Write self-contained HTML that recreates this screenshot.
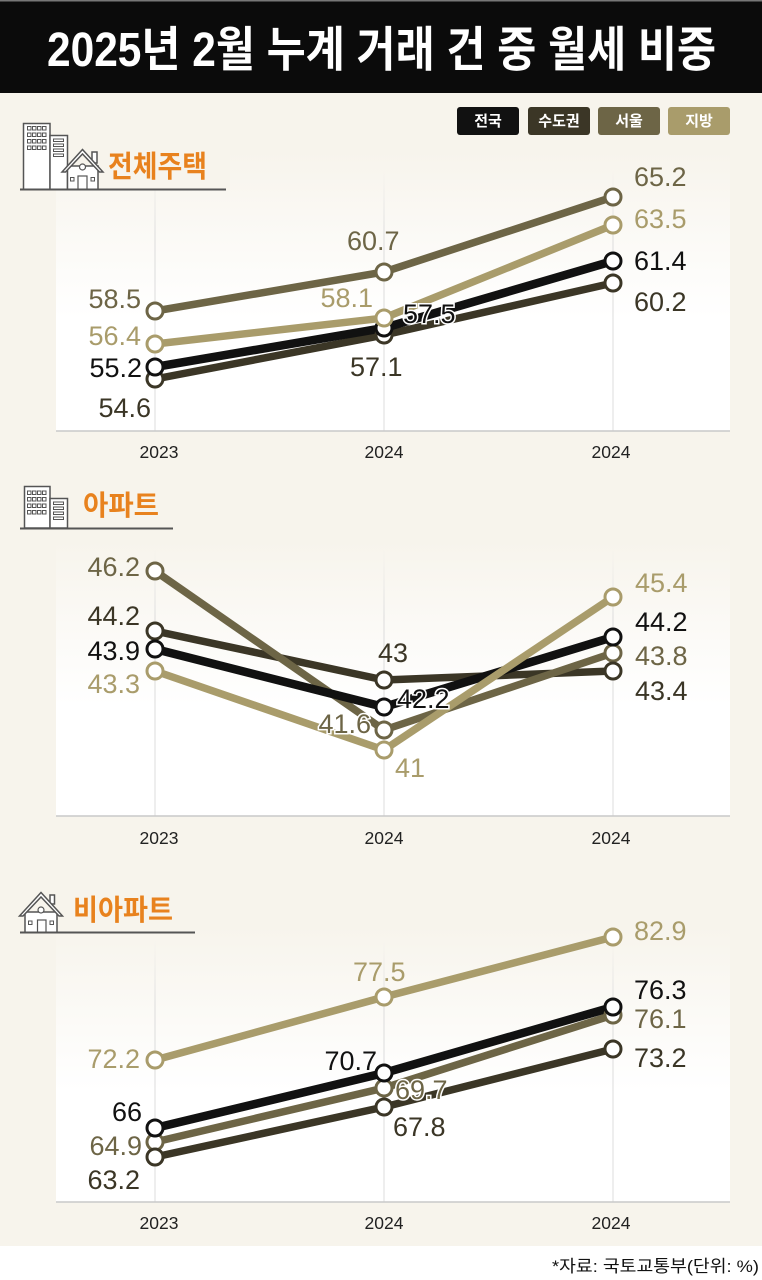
<!DOCTYPE html>
<html><head><meta charset="utf-8">
<style>
html,body{margin:0;padding:0;background:#f7f4ec;}
svg{display:block;}
</style></head>
<body>
<svg width="762" height="1280" viewBox="0 0 762 1280" xmlns="http://www.w3.org/2000/svg">
<defs>
<linearGradient id="pg" x1="0" y1="0" x2="0" y2="1">
<stop offset="0" stop-color="#f7f4ec"/>
<stop offset="0.6" stop-color="#ffffff"/>
<stop offset="1" stop-color="#ffffff"/>
</linearGradient>
<linearGradient id="gl" x1="0" y1="0" x2="0" y2="1">
<stop offset="0" stop-color="#dcdcdc" stop-opacity="0"/>
<stop offset="0.25" stop-color="#dcdcdc" stop-opacity="1"/>
<stop offset="1" stop-color="#dcdcdc" stop-opacity="1"/>
</linearGradient>
</defs>
<rect x="0" y="0" width="762" height="1280" fill="#f7f4ec"/>
<rect x="0" y="1246" width="762" height="34" fill="#ffffff"/>

<!-- ===== plot areas (drawn first) ===== -->
<rect x="56" y="150" width="674" height="281" fill="url(#pg)"/>
<rect x="56" y="540" width="674" height="276" fill="url(#pg)"/>
<rect x="56" y="925" width="674" height="277" fill="url(#pg)"/>
<g fill="url(#gl)">
<rect x="154.5" y="170" width="1" height="261"/><rect x="383.5" y="170" width="1" height="261"/><rect x="612.5" y="170" width="1" height="261"/>
<rect x="154.5" y="550" width="1" height="266"/><rect x="383.5" y="550" width="1" height="266"/><rect x="612.5" y="550" width="1" height="266"/>
<rect x="154.5" y="940" width="1" height="262"/><rect x="383.5" y="940" width="1" height="262"/><rect x="612.5" y="940" width="1" height="262"/>
</g>
<g stroke="#c9c9c9" stroke-width="1.5">
<line x1="56" y1="431" x2="730" y2="431"/>
<line x1="56" y1="816" x2="730" y2="816"/>
<line x1="56" y1="1202" x2="730" y2="1202"/>
</g>
<g font-family="'Liberation Sans',sans-serif" font-size="17.5" fill="#222" text-anchor="middle">
<text x="159" y="458">2023</text><text x="384" y="458">2024</text><text x="611" y="458">2024</text>
<text x="159" y="844">2023</text><text x="384" y="844">2024</text><text x="611" y="844">2024</text>
<text x="159" y="1229">2023</text><text x="384" y="1229">2024</text><text x="611" y="1229">2024</text>
</g>

<!-- title bar -->
<rect x="0" y="0" width="762" height="93" fill="#0b0b0b"/>
<rect x="0" y="0" width="762" height="1.5" fill="#777"/>
<text x="47" y="66" font-family="'Liberation Sans','Noto Sans CJK KR',sans-serif" font-weight="bold" font-size="48" fill="#ffffff" textLength="669" lengthAdjust="spacingAndGlyphs">2025년 2월 누계 거래 건 중 월세 비중</text>

<!-- legend -->
<g font-family="'Liberation Sans','Noto Sans CJK KR',sans-serif" font-weight="bold" font-size="15" fill="#fff" text-anchor="middle">
<rect x="457" y="107" width="62" height="28" rx="3" fill="#111111"/>
<text x="488" y="126">전국</text>
<rect x="528" y="107" width="62" height="28" rx="3" fill="#3b3626"/>
<text x="559" y="126">수도권</text>
<rect x="598" y="107" width="62" height="28" rx="3" fill="#6d6546"/>
<text x="629" y="126">서울</text>
<rect x="668" y="107" width="62" height="28" rx="3" fill="#a99c6b"/>
<text x="699" y="126">지방</text>
</g>

<!-- ===== header 1 icons ===== -->
<rect x="20" y="140" width="210" height="50" fill="#f7f4ec"/>
<g fill="#fff" stroke="#555" stroke-width="1.5">
<rect x="23.5" y="123.5" width="26.5" height="66"/>
<rect x="50" y="135.5" width="17.5" height="54"/>
<g stroke-width="1">
<rect x="27.5" y="126.5" width="3.5" height="3.5"/><rect x="32.5" y="126.5" width="3.5" height="3.5"/><rect x="37.5" y="126.5" width="3.5" height="3.5"/><rect x="42.5" y="126.5" width="3.5" height="3.5"/>
<rect x="27.5" y="133" width="3.5" height="3.5"/><rect x="32.5" y="133" width="3.5" height="3.5"/><rect x="37.5" y="133" width="3.5" height="3.5"/><rect x="42.5" y="133" width="3.5" height="3.5"/>
<rect x="27.5" y="139.5" width="3.5" height="3.5"/><rect x="32.5" y="139.5" width="3.5" height="3.5"/><rect x="37.5" y="139.5" width="3.5" height="3.5"/><rect x="42.5" y="139.5" width="3.5" height="3.5"/>
<rect x="27.5" y="146" width="3.5" height="3.5"/><rect x="32.5" y="146" width="3.5" height="3.5"/><rect x="37.5" y="146" width="3.5" height="3.5"/><rect x="42.5" y="146" width="3.5" height="3.5"/>
<rect x="53.5" y="139" width="10" height="2.5"/><rect x="53.5" y="144" width="10" height="2.5"/><rect x="53.5" y="149" width="10" height="2.5"/><rect x="53.5" y="154" width="10" height="2.5"/>
</g>
<rect x="92" y="152" width="5" height="11"/>
<rect x="67.5" y="166" width="30.5" height="23.5"/>
<path d="M62 172 L82.5 149.5 L103 172 L99.5 172 L82.5 154 L65.5 172 Z"/>
<circle cx="82.5" cy="167" r="3" stroke-width="1.2"/>
<rect x="78" y="176" width="9" height="13.5" stroke-width="1.2"/>
<rect x="70.5" y="177.5" width="3.5" height="3.5" stroke-width="1"/>
<rect x="91" y="177.5" width="3.5" height="3.5" stroke-width="1"/>
</g>
<line x1="20" y1="189.5" x2="226" y2="189.5" stroke="#555" stroke-width="2"/>
<text x="108" y="177" font-family="'Liberation Sans','Noto Sans CJK KR',sans-serif" font-weight="bold" font-size="30" fill="#e8821e" textLength="99" lengthAdjust="spacingAndGlyphs">전체주택</text>

<!-- ===== header 2 icons ===== -->
<g fill="#fff" stroke="#555" stroke-width="1.5">
<rect x="24.5" y="486.5" width="25.5" height="41.5"/>
<rect x="50" y="498.5" width="17.5" height="29.5"/>
<g stroke-width="1">
<rect x="27.5" y="491" width="3.5" height="3.5"/><rect x="32.5" y="491" width="3.5" height="3.5"/><rect x="37.5" y="491" width="3.5" height="3.5"/><rect x="42.5" y="491" width="3.5" height="3.5"/>
<rect x="27.5" y="497.5" width="3.5" height="3.5"/><rect x="32.5" y="497.5" width="3.5" height="3.5"/><rect x="37.5" y="497.5" width="3.5" height="3.5"/><rect x="42.5" y="497.5" width="3.5" height="3.5"/>
<rect x="27.5" y="504" width="3.5" height="3.5"/><rect x="32.5" y="504" width="3.5" height="3.5"/><rect x="37.5" y="504" width="3.5" height="3.5"/><rect x="42.5" y="504" width="3.5" height="3.5"/>
<rect x="27.5" y="510.5" width="3.5" height="3.5"/><rect x="32.5" y="510.5" width="3.5" height="3.5"/><rect x="37.5" y="510.5" width="3.5" height="3.5"/><rect x="42.5" y="510.5" width="3.5" height="3.5"/>
<rect x="53.5" y="502" width="10" height="2.5"/><rect x="53.5" y="507" width="10" height="2.5"/><rect x="53.5" y="512" width="10" height="2.5"/><rect x="53.5" y="517" width="10" height="2.5"/>
</g>
</g>
<line x1="20" y1="528.5" x2="173" y2="528.5" stroke="#555" stroke-width="2"/>
<text x="83" y="515" font-family="'Liberation Sans','Noto Sans CJK KR',sans-serif" font-weight="bold" font-size="28" fill="#e8821e" textLength="76" lengthAdjust="spacingAndGlyphs">아파트</text>

<!-- ===== header 3 icons ===== -->
<g fill="#fff" stroke="#555" stroke-width="1.5">
<rect x="50" y="895" width="4.5" height="9"/>
<rect x="25" y="912" width="32" height="20.5"/>
<path d="M19.5 916 L41 892.5 L62.5 916 L59 916 L41 897 L23 916 Z"/>
<circle cx="41" cy="910" r="3" stroke-width="1.2"/>
<rect x="37.5" y="920" width="8.5" height="12.5" stroke-width="1.2"/>
<rect x="28.5" y="921" width="3.5" height="3.5" stroke-width="1"/>
<rect x="50" y="921" width="3.5" height="3.5" stroke-width="1"/>
</g>
<line x1="20" y1="932.5" x2="195" y2="932.5" stroke="#555" stroke-width="2"/>
<text x="73" y="920" font-family="'Liberation Sans','Noto Sans CJK KR',sans-serif" font-weight="bold" font-size="29" fill="#e8821e" textLength="100" lengthAdjust="spacingAndGlyphs">비아파트</text>

<!-- ===== chart 1 lines ===== -->
<g fill="none" stroke-linejoin="round">
<polyline points="155,379 384,335 613,283" stroke="#3b3626" stroke-width="7.5"/>
<polyline points="155,311 384,272 613,197" stroke="#6d6546" stroke-width="7.5"/>
<polyline points="155,367 384,328 613,261" stroke="#111111" stroke-width="8.5"/>
<polyline points="155,344 384,318 613,225" stroke="#a99c6b" stroke-width="7.5"/>
</g>
<g fill="#fff" stroke-width="3">
<g stroke="#6d6546"><circle cx="155" cy="311" r="8"/><circle cx="384" cy="272" r="8"/><circle cx="613" cy="197" r="8"/></g>
<g stroke="#3b3626"><circle cx="155" cy="379" r="8"/><circle cx="384" cy="335" r="8"/><circle cx="613" cy="283" r="8"/></g>
<g stroke="#111111"><circle cx="155" cy="367" r="8"/><circle cx="384" cy="328" r="8"/><circle cx="613" cy="261" r="8"/></g>
<g stroke="#a99c6b"><circle cx="155" cy="344" r="8"/><circle cx="384" cy="318" r="8"/><circle cx="613" cy="225" r="8"/></g>
</g>

<!-- ===== chart 2 lines ===== -->
<g fill="none" stroke-linejoin="round">
<polyline points="155,631 384,680 613,671" stroke="#3b3626" stroke-width="7.5"/>
<polyline points="155,571 384,730 613,653" stroke="#6d6546" stroke-width="7.5"/>
<polyline points="155,649 384,707 613,637" stroke="#111111" stroke-width="8.5"/>
<polyline points="155,671 384,750 613,597" stroke="#a99c6b" stroke-width="7.5"/>
</g>
<g fill="#fff" stroke-width="3">
<g stroke="#6d6546"><circle cx="155" cy="571" r="8"/><circle cx="384" cy="730" r="8"/><circle cx="613" cy="653" r="8"/></g>
<g stroke="#3b3626"><circle cx="155" cy="631" r="8"/><circle cx="384" cy="680" r="8"/><circle cx="613" cy="671" r="8"/></g>
<g stroke="#111111"><circle cx="155" cy="649" r="8"/><circle cx="384" cy="707" r="8"/><circle cx="613" cy="637" r="8"/></g>
<g stroke="#a99c6b"><circle cx="155" cy="671" r="8"/><circle cx="384" cy="750" r="8"/><circle cx="613" cy="597" r="8"/></g>
</g>

<!-- ===== chart 3 lines ===== -->
<g fill="none" stroke-linejoin="round">
<polyline points="155,1157 384,1107 613,1049" stroke="#3b3626" stroke-width="7.5"/>
<polyline points="155,1142 384,1088 613,1015" stroke="#6d6546" stroke-width="7.5"/>
<polyline points="155,1128 384,1073 613,1007" stroke="#111111" stroke-width="8.5"/>
<polyline points="155,1060 384,997 613,937" stroke="#a99c6b" stroke-width="7.5"/>
</g>
<g fill="#fff" stroke-width="3">
<g stroke="#6d6546"><circle cx="155" cy="1142" r="8"/><circle cx="384" cy="1088" r="8"/><circle cx="613" cy="1015" r="8"/></g>
<g stroke="#3b3626"><circle cx="155" cy="1157" r="8"/><circle cx="384" cy="1107" r="8"/><circle cx="613" cy="1049" r="8"/></g>
<g stroke="#111111"><circle cx="155" cy="1128" r="8"/><circle cx="384" cy="1073" r="8"/><circle cx="613" cy="1007" r="8"/></g>
<g stroke="#a99c6b"><circle cx="155" cy="1060" r="8"/><circle cx="384" cy="997" r="8"/><circle cx="613" cy="937" r="8"/></g>
</g>

<!-- ===== value labels ===== -->
<g font-family="'Liberation Sans',sans-serif" font-size="27">
<!-- chart 1 -->
<text x="141" y="308" text-anchor="end" fill="#6d6546">58.5</text>
<text x="141" y="345" text-anchor="end" fill="#a99c6b">56.4</text>
<text x="142" y="377" text-anchor="end" fill="#111111">55.2</text>
<text x="151" y="417" text-anchor="end" fill="#3b3626">54.6</text>
<text x="347" y="250" fill="#6d6546">60.7</text>
<text x="373" y="307" text-anchor="end" fill="#a99c6b">58.1</text>
<text x="403" y="323" fill="#111111" stroke="#fff" stroke-width="3" paint-order="stroke">57.5</text>
<text x="350" y="376" fill="#3b3626">57.1</text>
<text x="634" y="186" fill="#6d6546">65.2</text>
<text x="634" y="228" fill="#a99c6b">63.5</text>
<text x="634" y="270" fill="#111111">61.4</text>
<text x="634" y="311" fill="#3b3626">60.2</text>
<!-- chart 2 -->
<text x="140" y="576" text-anchor="end" fill="#6d6546">46.2</text>
<text x="140" y="625" text-anchor="end" fill="#3b3626">44.2</text>
<text x="140" y="660" text-anchor="end" fill="#111111">43.9</text>
<text x="140" y="693" text-anchor="end" fill="#a99c6b">43.3</text>
<text x="378" y="662" fill="#3b3626">43</text>
<text x="397" y="708" fill="#111111" stroke="#fff" stroke-width="3" paint-order="stroke">42.2</text>
<text x="371" y="733" text-anchor="end" fill="#6d6546" stroke="#fff" stroke-width="3" paint-order="stroke">41.6</text>
<text x="395" y="777" fill="#a99c6b">41</text>
<text x="635" y="592" fill="#a99c6b">45.4</text>
<text x="635" y="631" fill="#111111">44.2</text>
<text x="635" y="665" fill="#6d6546">43.8</text>
<text x="635" y="700" fill="#3b3626">43.4</text>
<!-- chart 3 -->
<text x="140" y="1068" text-anchor="end" fill="#a99c6b">72.2</text>
<text x="142" y="1121" text-anchor="end" fill="#111111">66</text>
<text x="142" y="1155" text-anchor="end" fill="#6d6546">64.9</text>
<text x="140" y="1189" text-anchor="end" fill="#3b3626">63.2</text>
<text x="353" y="981" fill="#a99c6b">77.5</text>
<text x="377" y="1070" text-anchor="end" fill="#111111">70.7</text>
<text x="395" y="1099" fill="#6d6546" stroke="#fff" stroke-width="3" paint-order="stroke">69.7</text>
<text x="393" y="1136" fill="#3b3626">67.8</text>
<text x="634" y="940" fill="#a99c6b">82.9</text>
<text x="634" y="999" fill="#111111">76.3</text>
<text x="634" y="1028" fill="#6d6546">76.1</text>
<text x="634" y="1067" fill="#3b3626">73.2</text>
</g>

<!-- source -->
<text x="759" y="1272" text-anchor="end" font-family="'Liberation Sans','Noto Sans CJK KR',sans-serif" font-size="17" fill="#111" textLength="207" lengthAdjust="spacingAndGlyphs">*자료: 국토교통부(단위: %)</text>
</svg>
</body></html>
